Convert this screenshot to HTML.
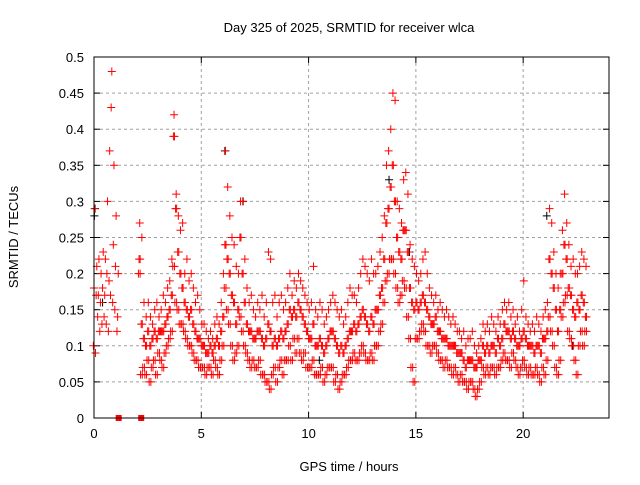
<!DOCTYPE html>
<html><head><meta charset="utf-8"><style>
body{margin:0;background:#fff}
svg text{font-family:"Liberation Sans",sans-serif;font-size:13px;fill:#000}
</style></head><body>
<svg id="chart" width="640" height="480" xmlns="http://www.w3.org/2000/svg">
<rect width="640" height="480" fill="#fff"/>
<text x="349" y="32" text-anchor="middle">Day 325 of 2025, SRMTID for receiver wlca</text>
<text transform="translate(18,237) rotate(-90)" text-anchor="middle">SRMTID / TECUs</text>
<text x="349" y="471" text-anchor="middle">GPS time / hours</text>
<g id="grid"></g><g id="ticks"></g><g id="marks"></g>
<rect x="94" y="57" width="515" height="361" fill="none" stroke="#000" stroke-width="1"/>
</svg>
<script>
const xTicks=[0,5,10,15,20];
const yTicks=[0,0.05,0.1,0.15,0.2,0.25,0.3,0.35,0.4,0.45,0.5];
const yTickLabels=["0","0.05","0.1","0.15","0.2","0.25","0.3","0.35","0.4","0.45","0.5"];
const seg1Start=0.0, seg2Start=2.1, step=0.1;
const seg1Hi=[.29,.21,.22,.2,.23,.22,.3,.37,.48,.35,.28,.2];
const seg1Mid=[.18,.17,.17,.16,.18,.17,.2,.19,.43,.24,.21,.14];
const seg1Lo=[.1,.09,.14,.12,.13,.14,.13,.12,.17,.16,.15,.12];
const seg2Hi=[.27,.25,.16,.14,.16,.14,.13,.15,.16,.14,
.15,.17,.16,.18,.19,.22,.42,.31,.28,.26,
.27,.2,.22,.19,.2,.18,.16,.17,.15,.13,
.13,.12,.11,.12,.11,.13,.14,.13,.16,.2,
.37,.32,.28,.25,.24,.21,.2,.3,.3,.22,
.18,.16,.17,.15,.14,.16,.15,.17,.14,.16,
.23,.22,.16,.17,.14,.16,.17,.15,.16,.18,
.2,.17,.19,.18,.2,.19,.18,.17,.16,.15,
.16,.21,.15,.14,.16,.15,.13,.14,.15,.16,
.17,.16,.15,.14,.15,.13,.14,.16,.18,.17,
.17,.16,.18,.2,.22,.21,.2,.19,.22,.2,
.2,.21,.23,.25,.28,.35,.37,.4,.45,.44,
.3,.29,.27,.33,.34,.31,.24,.22,.21,.2,
.19,.2,.22,.23,.2,.18,.17,.16,.17,.15,
.16,.15,.14,.15,.14,.13,.14,.13,.12,.12,
.11,.12,.1,.11,.11,.12,.1,.09,.1,.11,
.13,.12,.13,.12,.14,.13,.12,.14,.13,.15,
.16,.15,.16,.14,.15,.13,.14,.12,.15,.19,
.14,.13,.12,.13,.12,.14,.13,.12,.14,.15,
.16,.29,.27,.23,.2,.18,.2,.26,.31,.27,
.24,.21,.22,.2,.2,.21,.23,.22,.21];
const seg2Mid=[.22,.13,.11,.1,.12,.1,.11,.12,.11,.12,
.12,.12,.13,.14,.15,.17,.39,.29,.23,.2,
.18,.16,.15,.14,.15,.13,.12,.11,.11,.1,
.1,.09,.09,.1,.09,.1,.11,.1,.12,.14,
.24,.22,.2,.17,.16,.13,.15,.25,.2,.16,
.13,.12,.12,.11,.11,.12,.12,.11,.1,.11,
.13,.12,.1,.11,.1,.11,.12,.11,.12,.13,
.15,.14,.15,.14,.16,.15,.14,.13,.12,.11,
.11,.13,.1,.1,.11,.1,.09,.1,.11,.12,
.12,.11,.1,.09,.1,.09,.1,.11,.12,.12,
.13,.12,.13,.14,.15,.14,.13,.12,.14,.13,
.15,.15,.17,.18,.22,.27,.29,.32,.35,.3,
.25,.23,.22,.26,.26,.23,.18,.16,.15,.16,
.15,.16,.17,.16,.15,.14,.13,.13,.14,.12,
.12,.11,.11,.11,.1,.1,.1,.1,.09,.09,
.09,.08,.07,.08,.08,.08,.07,.07,.08,.08,
.1,.09,.1,.09,.1,.1,.09,.11,.1,.11,
.13,.12,.12,.11,.12,.11,.1,.1,.11,.12,
.11,.1,.1,.1,.09,.1,.1,.09,.11,.11,
.12,.22,.2,.18,.15,.12,.15,.2,.24,.22,
.18,.17,.15,.14,.16,.15,.17,.16,.14];
const seg2Lo=[.2,.06,.07,.06,.08,.05,.07,.08,.06,.09,
.08,.07,.09,.1,.11,.12,.21,.16,.15,.13,
.13,.12,.11,.1,.1,.09,.08,.08,.07,.07,
.07,.06,.07,.07,.06,.08,.07,.06,.08,.1,
.18,.15,.13,.1,.08,.09,.1,.14,.12,.1,
.09,.08,.07,.08,.07,.07,.08,.06,.06,.05,
.05,.04,.06,.07,.05,.07,.08,.06,.08,.08,
.1,.08,.11,.09,.11,.09,.08,.09,.07,.07,
.07,.08,.06,.06,.06,.07,.05,.06,.07,.07,
.07,.05,.06,.04,.05,.06,.06,.07,.08,.08,
.09,.08,.08,.09,.1,.09,.08,.08,.09,.08,
.1,.1,.12,.13,.16,.19,.2,.22,.22,.2,
.18,.16,.17,.19,.18,.14,.11,.07,.05,.11,
.11,.12,.13,.12,.1,.1,.09,.1,.1,.09,
.08,.08,.07,.08,.07,.07,.06,.07,.06,.05,
.06,.05,.05,.04,.05,.05,.04,.03,.04,.05,
.07,.06,.07,.06,.07,.07,.06,.07,.07,.08,
.09,.08,.08,.07,.09,.08,.07,.06,.07,.08,
.07,.06,.07,.06,.06,.07,.06,.05,.07,.06,
.08,.14,.12,.1,.07,.06,.08,.14,.16,.17,
.12,.11,.1,.08,.06,.1,.12,.1,.12];
const blackTimes=[0,0.02,0.05,0.4,6.1,6.95,10.5,13.75,14.7,21.1,22.3];
const blackValues=[.25,.28,.29,.16,.37,.3,.08,.33,.23,.28,.1];
const gapTimes=[1.15,2.2];
const gapValues=[0,0];

const X0=94,X1=609,Y0=418,Y1=57;
const xs=t=>X0+(t/24)*(X1-X0);
const ys=v=>Y0-(v/0.5)*(Y0-Y1);
const NS="http://www.w3.org/2000/svg";
function mk(tag,attrs,parent){const e=document.createElementNS(NS,tag);for(const k in attrs)e.setAttribute(k,attrs[k]);parent.appendChild(e);return e;}
const grid=document.getElementById('grid'),ticks=document.getElementById('ticks'),marks=document.getElementById('marks');
xTicks.forEach(t=>{const x=xs(t);
 if(t>0){const g=mk('line',{x1:x,x2:x,y1:Y1,y2:Y0,stroke:'#a0a0a0','stroke-dasharray':'3,3'},grid);
 
 }
 mk('line',{x1:x,x2:x,y1:Y0,y2:Y0-6,stroke:'#000'},ticks);
 mk('line',{x1:x,x2:x,y1:Y1,y2:Y1+6,stroke:'#000'},ticks);
 const l=mk('text',{x:x,y:Y0+20,'text-anchor':'middle'},ticks);l.textContent=t;
 
 
});
yTicks.forEach((v,i)=>{const y=ys(v);
 if(i>0&&i<yTicks.length-1){const g=mk('line',{x1:X0,x2:X1,y1:y,y2:y,stroke:'#a0a0a0','stroke-dasharray':'3,3'},grid);
 
 }
 mk('line',{x1:X0,x2:X0+6,y1:y,y2:y,stroke:'#000'},ticks);
 mk('line',{x1:X1,x2:X1-6,y1:y,y2:y,stroke:'#000'},ticks);
 const l=mk('text',{x:X0-10,y:y+5,'text-anchor':'end'},ticks);l.textContent=yTickLabels[i];
 
 
});
function plus(t,v,color){const x=xs(t),y=ys(v);
 const p=mk('path',{d:`M${x-4},${y}H${x+4}M${x},${y-4}V${y+4}`,stroke:color,'stroke-width':1,fill:'none'},marks);
 
 
}
function series(start,arr,off){arr.forEach((v,i)=>plus(start+i*step+off,v,'#ff0000'));}
blackTimes.forEach((t,i)=>plus(t,blackValues[i],'#000'));
series(seg1Start,seg1Hi,0.03);series(seg1Start,seg1Mid,0);series(seg1Start,seg1Lo,-0.03);
series(seg2Start,seg2Hi,0.03);series(seg2Start,seg2Mid,0);series(seg2Start,seg2Lo,-0.03);
series(seg2Start,seg2Mid,0.05);series(seg2Start,seg2Lo,0.05);
gapTimes.forEach((t,i)=>{const r=mk('rect',{x:xs(t)-3,y:ys(gapValues[i])-3,width:6,height:6,fill:'#ff0000'},marks);
 
 });
</script>
</body></html>
